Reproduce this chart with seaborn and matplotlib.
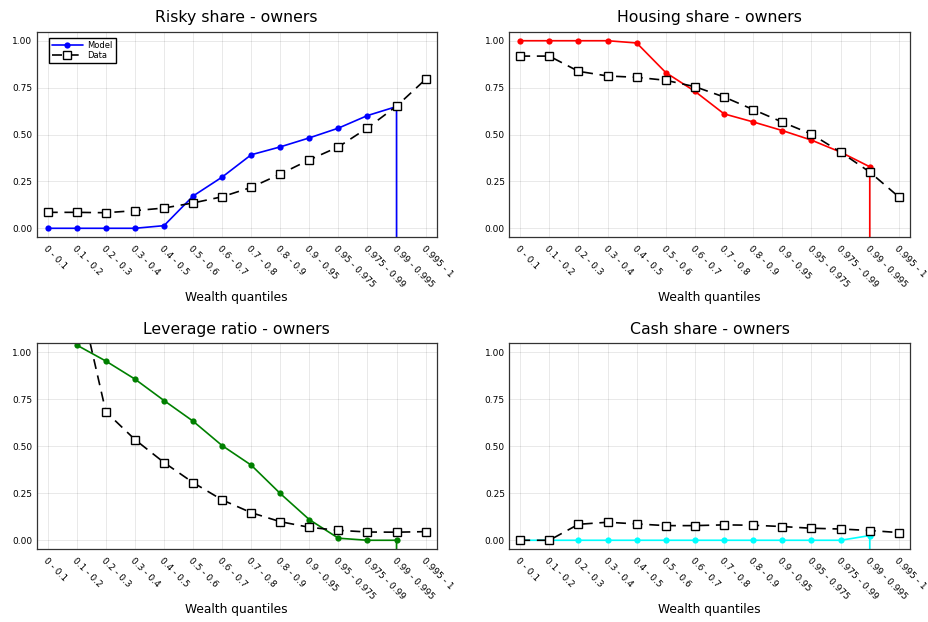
import numpy as np
import pandas as pd
import matplotlib
matplotlib.use("Agg")
import matplotlib.pyplot as plt
import seaborn as sns

quantiles = ["0 - 0.1", "0.1 - 0.2", "0.2 - 0.3", "0.3 - 0.4", "0.4 - 0.5",
             "0.5 - 0.6", "0.6 - 0.7", "0.7 - 0.8", "0.8 - 0.9", "0.9 - 0.95",
             "0.95 - 0.975", "0.975 - 0.99", "0.99 - 0.995", "0.995 - 1"]

risky_model = [0.0, 0.0, 0.0, 0.0, 0.014, 0.172, 0.273, 0.392, 0.434, 0.482,
               0.534, 0.601, 0.649, -1000.0]
risky_data = [0.085, 0.085, 0.083, 0.094, 0.108, 0.135, 0.168, 0.218, 0.289,
              0.365, 0.434, 0.535, 0.651, 0.794]

housing_model = [1.0, 1.0, 1.0, 1.0, 0.988, 0.830, 0.730, 0.610, 0.567, 0.521,
                 0.470, 0.406, 0.328, -1000.0]
housing_data = [0.918, 0.918, 0.837, 0.812, 0.805, 0.789, 0.755, 0.700, 0.633,
                0.566, 0.502, 0.406, 0.300, 0.167]

leverage_model = [np.nan, 1.039, 0.954, 0.858, 0.744, 0.634, 0.504, 0.400,
                  0.249, 0.110, 0.011, 0.0, 0.0, -1000.0]
leverage_data = [2.0, 1.36, 0.684, 0.536, 0.414, 0.307, 0.215, 0.147, 0.099,
                 0.069, 0.053, 0.044, 0.043, 0.046]

cash_model = [0.0, 0.0, 0.0, 0.0, 0.0, 0.0, 0.0, 0.0, 0.0, 0.0, 0.0, 0.0,
              0.025, -1000.0]
cash_data = [0.0, 0.0, 0.085, 0.096, 0.087, 0.078, 0.078, 0.082, 0.080, 0.073,
             0.064, 0.060, 0.052, 0.041]

sns.set_theme(style="white")
plt.rcParams['font.family'] = ['DejaVu Sans']
plt.rcParams['text.color'] = 'black'
plt.rcParams['axes.labelcolor'] = 'black'
plt.rcParams['xtick.color'] = 'black'
plt.rcParams['ytick.color'] = 'black'

fig = plt.figure(figsize=(9.29, 6.22), dpi=100)

panels = [
    ("Risky share - owners", risky_model, risky_data, "blue", [0.0395, 0.6185, 0.4305, 0.3305]),
    ("Housing share - owners", housing_model, housing_data, "red", [0.548, 0.6185, 0.4315, 0.3305]),
    ("Leverage ratio - owners", leverage_model, leverage_data, "green", [0.0395, 0.1169, 0.4305, 0.331]),
    ("Cash share - owners", cash_model, cash_data, "cyan", [0.548, 0.1169, 0.4315, 0.331]),
]

x = np.arange(len(quantiles))
for i, (title, model, data, col, rect) in enumerate(panels):
    ax = fig.add_axes(rect)
    df = pd.DataFrame({"x": x, "model": model, "data": data})
    sns.lineplot(data=df, x="x", y="model", ax=ax, color=col, marker="o",
                 markersize=4.5, markeredgewidth=0, linewidth=1.2,
                 errorbar=None, label="Model", legend=False)
    sns.lineplot(data=df, x="x", y="data", ax=ax, color="black", marker="s",
                 markersize=5.2, markerfacecolor="white", markeredgecolor="black",
                 markeredgewidth=1.0, linewidth=1.2, linestyle=(0, (6, 4)),
                 errorbar=None, label="Data", legend=False)
    ax.set_xlim(-0.38, 13.38)
    ax.set_ylim(-0.048, 1.048)
    ax.set_yticks([0.0, 0.25, 0.5, 0.75, 1.0])
    ax.set_yticklabels(["0.00", "0.25", "0.50", "0.75", "1.00"])
    ax.set_xticks(x)
    ax.set_xticklabels(quantiles, rotation=-45, ha="left", va="top",
                       rotation_mode="anchor")
    ax.tick_params(axis="both", direction="in", length=3, width=0.8,
                   labelsize=6.5, colors="black", pad=3)
    ax.tick_params(axis="x", pad=5)
    ax.grid(True, color="black", alpha=0.1, linewidth=0.6)
    for s in ax.spines.values():
        s.set_color("#333333")
        s.set_linewidth(0.9)
    ax.set_title(title, fontsize=11.3, pad=7, color="black")
    ax.set_ylabel("")
    ax.set_xlabel("Wealth quantiles", fontsize=8.8, color="black")
    ax.xaxis.set_label_coords(0.5, -0.26)
    if i == 0:
        ax.legend(loc="upper left", fontsize=6, frameon=True, fancybox=False,
                  edgecolor="black", framealpha=1, handlelength=3.8,
                  borderpad=0.35, labelspacing=0.15, handletextpad=0.5,
                  borderaxespad=0, bbox_to_anchor=(0.03, 0.97))

fig.savefig("out.png", dpi=100)
